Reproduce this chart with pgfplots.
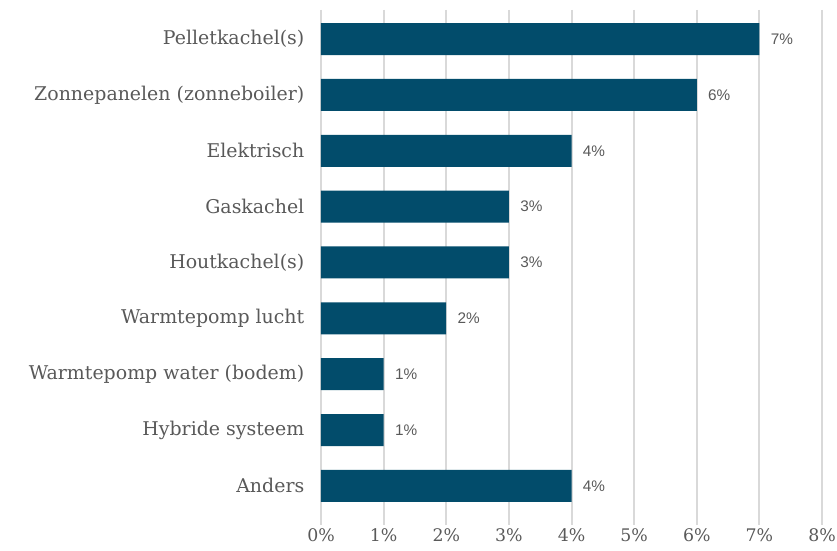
\documentclass[border=0pt]{standalone}
\usepackage{pgfplots}
\pgfplotsset{compat=1.18}
\usepackage{fontspec}
\setmainfont{DejaVu Serif}
\newfontfamily\labfont{Liberation Sans}
\definecolor{barc}{RGB}{2,76,107}
\definecolor{txt}{RGB}{89,89,89}
\definecolor{gridc}{RGB}{217,217,217}
\begin{document}
\begin{tikzpicture}
\begin{axis}[
  at={(0pt,0pt)}, anchor=south west,
  scale only axis, width=375.75pt, height=386.25pt,
  xbar, bar width=24pt,
  xmin=0, xmax=8, ymin=-0.52, ymax=8.70, y dir=reverse,
  xtick={0,...,8}, ytick={0,...,8},
  yticklabels={Pelletkachel(s),Zonnepanelen (zonneboiler),Elektrisch,Gaskachel,Houtkachel(s),Warmtepomp lucht,Warmtepomp water (bodem),Hybride systeem,Anders},
  xticklabel={\pgfmathprintnumber{\tick}\%},
  /pgf/number format/assume math mode=true,
  axis line style={draw=none},
  major tick length=0pt,
  xmajorgrids, grid style={gridc, line width=1.5pt},
  tick label style={text=txt, font=\fontsize{14.2}{16}\selectfont},
  yticklabel style={xshift=-9pt},
  xticklabel style={font=\fontsize{13}{15}\selectfont, yshift=1pt},
  nodes near coords={\pgfmathprintnumber{\pgfplotspointmeta}\%},
  nodes near coords style={anchor=west, font=\labfont\fontsize{11.5}{13}\selectfont, text=txt, xshift=5pt},
  point meta=x,
]
\addplot[fill=barc, draw=none] coordinates {(7,0) (6,1) (4,2) (3,3) (3,4) (2,5) (1,6) (1,7) (4,8)};
\end{axis}
\pgfresetboundingbox
\path[use as bounding box] (-240.75pt,-18.75pt) rectangle (387pt,393.75pt);
\end{tikzpicture}
\end{document}
